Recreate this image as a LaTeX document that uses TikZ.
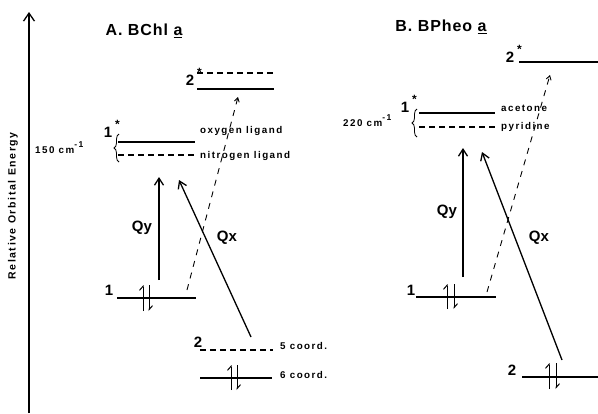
\documentclass[tikz,border=0pt]{standalone}
\usepackage{fontspec}
\setmainfont{Liberation Sans}
\usetikzlibrary{arrows.meta,decorations.pathreplacing}
\newcommand{\stars}{\rlap{\kern3pt\raisebox{0.6em}{\fontsize{12}{12}\selectfont *}}}
\newcommand{\invcm}{cm\raisebox{0.55em}{\fontsize{8.5}{8.5}\selectfont -\,1}}
\begin{document}
\begin{tikzpicture}[x=1pt,y=-1pt,
  lvl/.style={line width=1.6pt},
  lvldash/.style={line width=1.2pt, dash pattern=on 6pt off 4pt},
  tr/.style={line width=1.3pt, -{Straight Barb[length=7pt,width=9pt,line width=1.3pt]}},
  trd/.style={line width=0.9pt, dash pattern=on 6pt off 6pt, -{Straight Barb[length=4pt,width=5pt,line width=0.9pt]}},
  spin/.style={line width=1pt, -{Straight Barb[left,length=4pt,width=7pt,line width=1pt]}},
  bracestyle/.style={line width=0.8pt, decorate, decoration={brace,amplitude=5pt}},
  title/.style={font=\fontsize{16}{16}\selectfont\bfseries\addfontfeature{LetterSpace=6}},
  lab/.style={font=\fontsize{15}{15}\selectfont\bfseries, anchor=base, inner sep=0pt},
  qlab/.style={font=\fontsize{15}{15}\selectfont\bfseries},
  sm/.style={font=\fontsize{9.8}{10}\selectfont\bfseries\addfontfeature{LetterSpace=15}, anchor=base west, inner sep=0pt}]
\useasboundingbox (0,0) rectangle (598,413);
% axis
\coordinate (ax0) at (29,413);
\coordinate (ax1) at (29,12);
\draw[line width=1.3pt,-{Straight Barb[length=8pt,width=11pt,line width=1.3pt]}] (ax0) -- (ax1);
\node[rotate=90, font=\fontsize{10.5}{11}\selectfont\bfseries\addfontfeature{LetterSpace=15}] (ylab) at (13,206) {Relative Orbital Energy};
% titles
\node[title] (tA) at (144,31) {A. BChl \underline{a}};
\node[title] (tB) at (441,27) {B. BPheo \underline{a}};

% ---------- panel A ----------
\draw[lvl] (117,298) -- (196,298);
\draw[lvl] (118,142) -- (195,142);
\draw[lvldash] (118,155) -- (195,155);
\draw[lvldash] (197,73) -- (274,73);
\draw[lvl] (197,89) -- (274,89);
\draw[lvldash] (200,350) -- (273,350);
\draw[lvl] (200,378) -- (272,378);
\draw[bracestyle] (119,162) -- (119,134);
% spins
\coordinate (a1u0) at (143,311); \coordinate (a1u1) at (143,285);
\coordinate (a1d0) at (149,285); \coordinate (a1d1) at (149,311);
\draw[spin] (a1u0) -- (a1u1); \draw[spin] (a1d0) -- (a1d1);
\coordinate (a2u0) at (231,390); \coordinate (a2u1) at (231,365);
\coordinate (a2d0) at (237,365); \coordinate (a2d1) at (237,390);
\draw[spin] (a2u0) -- (a2u1); \draw[spin] (a2d0) -- (a2d1);
% transitions
\coordinate (aqy0) at (159,280); \coordinate (aqy1) at (159,177);
\coordinate (aqx0) at (251,337); \coordinate (aqx1) at (179,180);
\coordinate (ad0) at (187,290); \coordinate (ad1) at (238,97);
\draw[tr] (aqy0) -- (aqy1);
\draw[tr] (aqx0) -- (aqx1);
\draw[trd] (ad0) -- (ad1);
% labels
\node[lab] (a1) at (109,295) {1};
\node[lab] (a1s) at (108,137) {1\stars};
\node[lab] (a2s) at (190,85) {2\stars};
\node[lab] (a2) at (198,347) {2};
\node[qlab] (aqy) at (142,228) {Qy};
\node[qlab] (aqx) at (227,238) {Qx};
\node[sm] (aox) at (200,133) {oxygen ligand};
\node[sm] (ani) at (200,158) {nitrogen ligand};
\node[sm] (a5) at (280,349) {5 coord.};
\node[sm] (a6) at (280,378) {6 coord.};
\node[sm] (acm) at (35,153) {150 \invcm};

% ---------- panel B ----------
\draw[lvl] (416,297) -- (496,297);
\draw[lvl] (419,113) -- (495,113);
\draw[lvldash] (419,127) -- (495,127);
\draw[lvl] (519,62) -- (598,62);
\draw[lvl] (522,377) -- (598,377);
\draw[bracestyle] (417,137) -- (417,109);
\coordinate (b1u0) at (447,309); \coordinate (b1u1) at (447,284);
\coordinate (b1d0) at (454,284); \coordinate (b1d1) at (454,309);
\draw[spin] (b1u0) -- (b1u1); \draw[spin] (b1d0) -- (b1d1);
\coordinate (b2u0) at (549,389); \coordinate (b2u1) at (549,363);
\coordinate (b2d0) at (556,363); \coordinate (b2d1) at (556,389);
\draw[spin] (b2u0) -- (b2u1); \draw[spin] (b2d0) -- (b2d1);
\coordinate (bqy0) at (463,277); \coordinate (bqy1) at (463,148);
\coordinate (bqx0) at (562,360); \coordinate (bqx1) at (482,152);
\coordinate (bd0) at (487,292); \coordinate (bd1) at (550,75);
\draw[tr] (bqy0) -- (bqy1);
\draw[tr] (bqx0) -- (bqx1);
\draw[trd] (bd0) -- (bd1);
\node[lab] (b1) at (411,295) {1};
\node[lab] (b1s) at (405,112) {1\stars};
\node[lab] (b2s) at (510,62) {2\stars};
\node[lab] (b2) at (512,375) {2};
\node[qlab] (bqy) at (447,212) {Qy};
\node[qlab] (bqx) at (539,238) {Qx};
\node[sm] (bac) at (501,111) {acetone};
\node[sm] (bpy) at (501,129) {pyridine};
\node[sm] (bcm) at (343,126) {220 \invcm};
\end{tikzpicture}
\end{document}
